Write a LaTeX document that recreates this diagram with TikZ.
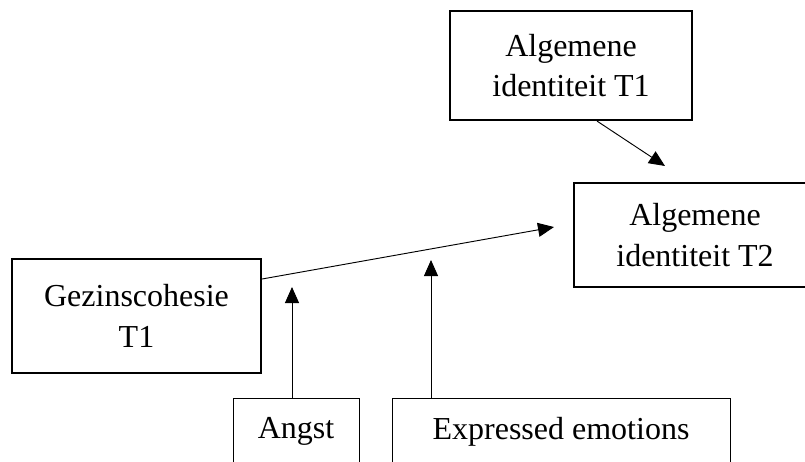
\documentclass[tikz,border=0pt]{standalone}
\usepackage{fontspec}
\setmainfont{Liberation Serif}
\usetikzlibrary{arrows.meta}
\begin{document}
\begin{tikzpicture}[x=0.75pt,y=-0.75pt,
  lbl/.style={font=\fontsize{24}{30.5}\selectfont, align=center, inner sep=0pt},
  thickbox/.style={lbl, draw, line width=1.6pt},
  thinbox/.style={lbl, draw, line width=0.7pt},
  arr/.style={line width=0.7pt, -{Triangle[length=12pt,width=10.5pt]}}]
\useasboundingbox (0,0) rectangle (805,461);
\clip (0,0) rectangle (805,461);
\node[thickbox, minimum width=181.5pt, minimum height=81.75pt] (top) at (571,65.5) {Algemene\\identiteit T1};
\node[thickbox, minimum width=181.5pt, minimum height=78pt] (t2) at (695,235) {Algemene\\identiteit T2};
\node[thickbox, minimum width=186.75pt, minimum height=85.5pt] (gez) at (136.5,316) {Gezinscohesie\\T1};
\node[thinbox, minimum width=94.5pt, minimum height=49.5pt] (angst) at (296,431) {Angst};
\node[thinbox, minimum width=253.5pt, minimum height=49pt] (expr) at (561,431.5) {Expressed emotions};
\coordinate (tipA) at (554,227);
\coordinate (tipB) at (665,166);
\coordinate (tipC) at (292,287);
\coordinate (tipD) at (431,260);
\draw[arr] ([yshift=27.75pt]gez.east) -- (tipA);
\draw[arr] ([xshift=19.5pt]top.south) -- (tipB);
\draw[arr] ([xshift=-3pt]angst.north) -- (tipC);
\draw[arr] ([xshift=-97.5pt]expr.north) -- (tipD);
\end{tikzpicture}
\end{document}
